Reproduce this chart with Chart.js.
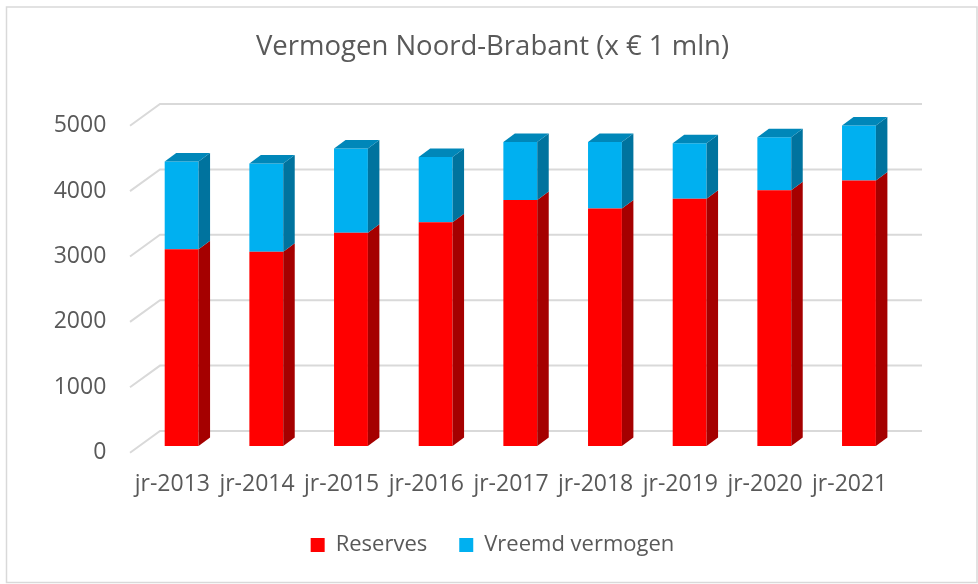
<!DOCTYPE html>
<html lang="nl">
<head>
<meta charset="utf-8">
<title>Vermogen Noord-Brabant</title>
<script src="https://cdn.jsdelivr.net/npm/chart.js@4/dist/chart.umd.min.js"></script>
<style>
    html, body { margin: 0; padding: 0; background: #ffffff; }
    .chart-wrap { position: relative; width: 978px; height: 584px; }
</style>
</head>
<body>
<div class="chart-wrap">
    <canvas id="vermogenChart"></canvas>
</div>
<script>
// Data
const categories = ['jr-2013', 'jr-2014', 'jr-2015', 'jr-2016', 'jr-2017', 'jr-2018', 'jr-2019', 'jr-2020', 'jr-2021'];
const reserves = [3010, 2970, 3260, 3420, 3760, 3630, 3780, 3910, 4060];
const vreemdVermogen = [1340, 1350, 1290, 1000, 890, 1020, 850, 810, 840];
const yTicks = [0, 1000, 2000, 3000, 4000, 5000];

const textColor = '#595959';
const gridColor = '#d9d9d9';
const fontFamily = '"Open Sans", Lato, sans-serif';

// 3D look: bar depth, wall offset behind the bars, floor edge in front
const barDepth = { x: 11.5, y: 8.5 };
const wallOffset = { x: 20.7, y: 15 };
const floorOffset = { x: 9.3, y: 6.7 };
const sideColors = ['#a50000', '#00739e'];
const topColors = ['#c80000', '#0087b9'];

// Frame around the whole chart
const framePlugin = {
    id: 'frame',
    beforeDraw(chart) {
        const ctx = chart.ctx;
        ctx.save();
        ctx.strokeStyle = gridColor;
        ctx.lineWidth = 1.5;
        ctx.strokeRect(6.5, 7, 970.5, 575.5);
        ctx.restore();
    }
};

// Back wall gridlines and the left edge of the floor/wall
const wallPlugin = {
    id: 'wall',
    beforeDatasetsDraw(chart) {
        const ctx = chart.ctx;
        const area = chart.chartArea;
        const yScale = chart.scales.y;
        ctx.save();
        ctx.strokeStyle = gridColor;
        ctx.lineWidth = 2;
        yTicks.forEach(v => {
            const py = yScale.getPixelForValue(v);
            ctx.beginPath();
            ctx.moveTo(area.left - floorOffset.x, py + floorOffset.y);
            ctx.lineTo(area.left + wallOffset.x, py - wallOffset.y);
            ctx.lineTo(area.right + wallOffset.x, py - wallOffset.y);
            ctx.stroke();
        });
        ctx.restore();
    }
};

// Side and top faces of the columns
const depthPlugin = {
    id: 'depth',
    afterDatasetsDraw(chart) {
        const ctx = chart.ctx;
        const last = chart.data.datasets.length - 1;
        ctx.save();
        chart.data.datasets.forEach((ds, di) => {
            const meta = chart.getDatasetMeta(di);
            meta.data.forEach(bar => {
                const { x, y, base, width } = bar.getProps(['x', 'y', 'base', 'width'], true);
                const left = x - width / 2;
                const right = x + width / 2;

                ctx.fillStyle = sideColors[di];
                ctx.beginPath();
                ctx.moveTo(right, y);
                ctx.lineTo(right + barDepth.x, y - barDepth.y);
                ctx.lineTo(right + barDepth.x, base - barDepth.y);
                ctx.lineTo(right, base);
                ctx.closePath();
                ctx.fill();

                if (di === last) {
                    ctx.fillStyle = topColors[di];
                    ctx.beginPath();
                    ctx.moveTo(left, y);
                    ctx.lineTo(left + barDepth.x, y - barDepth.y);
                    ctx.lineTo(right + barDepth.x, y - barDepth.y);
                    ctx.lineTo(right, y);
                    ctx.closePath();
                    ctx.fill();
                }
            });
        });
        ctx.restore();
    }
};

const ctx = document.getElementById('vermogenChart');
new Chart(ctx, {
    type: 'bar',
    data: {
        labels: categories,
        datasets: [
            {
                label: 'Reserves',
                data: reserves,
                backgroundColor: '#ff0000',
                borderWidth: 0
            },
            {
                label: 'Vreemd vermogen',
                data: vreemdVermogen,
                backgroundColor: '#00b0f0',
                borderWidth: 0
            }
        ]
    },
    options: {
        responsive: true,
        maintainAspectRatio: false,
        animation: false,
        datasets: {
            bar: { barPercentage: 0.4, categoryPercentage: 1 }
        },
        layout: {
            padding: { left: 10, right: 3, top: 10, bottom: 18 }
        },
        plugins: {
            title: {
                display: true,
                text: 'Vermogen Noord-Brabant (x € 1 mln)',
                color: textColor,
                font: { family: fontFamily, size: 27.5, weight: 'normal' },
                padding: { top: 21, bottom: 55 }
            },
            legend: {
                position: 'bottom',
                labels: {
                    color: textColor,
                    font: { family: fontFamily, size: 22 },
                    boxWidth: 14,
                    boxHeight: 14,
                    padding: 32
                }
            },
            tooltip: { enabled: false }
        },
        scales: {
            x: {
                stacked: true,
                grid: { display: false, drawTicks: false },
                border: { display: false },
                ticks: {
                    color: textColor,
                    font: { family: fontFamily, size: 23 },
                    autoSkip: false,
                    maxRotation: 0,
                    labelOffset: -floorOffset.x,
                    padding: 25
                },
                afterFit(scale) { scale.height = 56; }
            },
            y: {
                stacked: true,
                min: 0,
                max: 5000,
                grid: { display: false, drawTicks: false },
                border: { display: false },
                ticks: {
                    color: textColor,
                    font: { family: fontFamily, size: 23 },
                    stepSize: 1000,
                    labelOffset: floorOffset.y,
                    padding: 33,
                    callback: value => String(value)
                },
                afterFit(scale) { scale.width = 129.3; }
            },
            // empty axis that keeps the space to the right of the wall
            yRight: {
                position: 'right',
                grid: { display: false, drawTicks: false },
                border: { display: false },
                ticks: { display: false },
                afterFit(scale) { scale.width = 73.7; }
            }
        }
    },
    plugins: [framePlugin, wallPlugin, depthPlugin]
});
</script>
</body>
</html>
